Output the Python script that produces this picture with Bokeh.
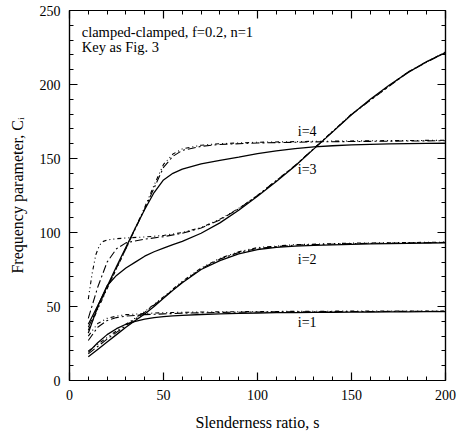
from bokeh.plotting import figure
from bokeh.models import Range1d, FixedTicker, LinearAxis, Label, CustomLabelingPolicy
from bokeh.embed import file_html
from bokeh.resources import INLINE

# ---------------- data ----------------
s_exact = [10, 15, 20, 25, 30, 35, 40, 45, 50, 55, 60, 70, 80, 90, 100,
           110, 120, 130, 140, 150, 160, 170, 180, 190, 200]

i1_exact = [19, 25.5, 31, 35, 38, 40, 41.5, 42.5, 43.2, 43.7, 44, 44.6, 45, 45.3, 45.6,
            45.8, 45.9, 46, 46.1, 46.2, 46.3, 46.4, 46.4, 46.5, 46.5]
i2_exact = [16, 21, 26, 31, 36, 40.5, 45, 50, 55.5, 61, 66, 75, 81, 85.5, 88.5,
            90, 90.8, 91.3, 91.7, 92, 92.3, 92.5, 92.7, 92.9, 93]
i3_exact = [32, 50, 64, 71, 76, 80, 84, 87, 89.5, 91.8, 94, 99.5, 106.5, 115, 124.5,
            134.5, 145, 156.5, 168, 179.5, 190, 199.5, 208, 215.5, 221.5]
i4_exact = [38, 50.5, 63.5, 77, 90, 103, 115.5, 127, 135.5, 140, 142.8, 146.3, 148.8, 151, 153.3,
            155.2, 156.7, 157.8, 158.6, 159.2, 159.6, 159.9, 160.1, 160.2, 160.3]

# approximation 1 (dash-dot)
s1_a = [10, 15, 20, 25, 30, 40, 50, 60, 80, 100, 150, 200]
i1_a = [27, 36, 40.5, 42.5, 43.5, 44.5, 45, 45.5, 46, 46.3, 46.6, 46.8]
s2_a = [10, 15, 20, 25, 30, 40, 50, 60, 70, 80, 90, 100, 120, 150, 200]
i2_a = [18, 23, 28, 32.5, 37, 46, 56, 66.5, 75.5, 82, 86.5, 89.3, 91.5, 92.5, 93.3]
s3_a = [10, 15, 20, 25, 30, 40, 50, 60, 70, 80, 90, 100, 120, 150, 180, 200]
i3_a = [42, 63, 80, 89, 93, 95.5, 97.2, 99.5, 103, 108.5, 116, 125, 145.2, 179.8, 208.3, 221.8]
s4_a = [10, 15, 20, 25, 30, 35, 40, 45, 50, 55, 60, 70, 80, 100, 130, 160, 200]
i4_a = [36, 49, 62.5, 76, 89, 102.5, 116, 130, 144, 151.5, 155.5, 158.2, 159.5, 160.5, 161.2, 161.6, 162]

# approximation 2 (dotted)
s1_b = [10, 15, 20, 25, 30, 40, 50, 60, 80, 100, 150, 200]
i1_b = [30, 38.5, 42, 43.5, 44.5, 45.3, 45.8, 46.1, 46.4, 46.6, 46.9, 47]
s2_b = [10, 15, 20, 25, 30, 40, 50, 60, 70, 80, 90, 100, 120, 150, 200]
i2_b = [20, 24.5, 29, 33.5, 38, 46.5, 56.5, 67, 76, 82.5, 87, 89.8, 91.8, 92.8, 93.5]
s3_b = [10, 12, 14, 16, 18, 20, 25, 30, 40, 50, 60, 70, 80, 90, 100, 120, 150, 180, 200]
i3_b = [55, 72, 85, 91.5, 94, 95, 95.8, 96.3, 97, 98, 100, 103.3, 109, 116.3, 125, 145.3, 180, 208.5, 222]
s4_b = [10, 15, 20, 25, 30, 35, 40, 45, 50, 55, 60, 70, 80, 100, 130, 160, 200]
i4_b = [34, 48, 62, 75.5, 89, 103, 117, 132, 146, 153, 156.5, 159, 160, 161, 161.6, 162, 162.3]

x_major = [0, 50, 100, 150, 200]
x_minor = list(range(0, 201, 10))
y_major = [0, 50, 100, 150, 200, 250]
y_minor = list(range(0, 251, 10))

mode_labels = ["i=1", "i=2", "i=3", "i=4"]
label_s = [126.4, 126.4, 126.4, 126.4]
label_c = [39.3, 82, 142.5, 168.4]

title_lines = ["clamped-clamped, f=0.2, n=1", "Key as Fig. 3"]

# ---------------- figure ----------------
FONT = "Liberation Serif"

p = figure(width=464, height=440, x_range=Range1d(0, 200), y_range=Range1d(0, 250),
           output_backend="svg", toolbar_location=None,
           min_border_left=69, min_border_right=19, min_border_top=10, min_border_bottom=60)
p.xgrid.visible = False
p.ygrid.visible = False
p.outline_line_color = "black"
p.outline_line_width = 1.2
p.background_fill_color = "white"
p.border_fill_color = "white"

def style_axis(ax, ticks, minor, size="14px"):
    ax.ticker = FixedTicker(ticks=ticks, minor_ticks=minor)
    ax.major_tick_in = 8
    ax.major_tick_out = 0
    ax.minor_tick_in = 4
    ax.minor_tick_out = 0
    ax.axis_line_color = "black"
    ax.axis_line_width = 1.2
    ax.major_tick_line_color = "black"
    ax.major_tick_line_width = 1.2
    ax.minor_tick_line_color = "black"
    ax.minor_tick_line_width = 1
    ax.major_label_text_font = FONT
    ax.major_label_text_font_size = size
    ax.major_label_text_color = "black"
    ax.axis_label_text_font = FONT
    ax.axis_label_text_font_size = "16px"
    ax.axis_label_text_font_style = "normal"
    ax.axis_label_text_color = "black"

style_axis(p.xaxis[0], x_major, x_minor)
style_axis(p.yaxis[0], y_major, y_minor)
p.xaxis[0].axis_label = "Slenderness ratio, s"
p.yaxis[0].axis_label = "Frequency parameter, C\u1d62"
p.xaxis[0].major_label_standoff = 9
p.xaxis[0].axis_label_standoff = 11
p.yaxis[0].major_label_standoff = 9
p.yaxis[0].axis_label_standoff = 11

# mirrored tick-only axes on top and right
hide_all = CustomLabelingPolicy(code="return new Set()")
top_ax = LinearAxis()
right_ax = LinearAxis()
style_axis(top_ax, x_major, x_minor, size="1px")
style_axis(right_ax, y_major, y_minor, size="1px")
for ax in (top_ax, right_ax):
    ax.major_label_policy = hide_all
    ax.major_label_standoff = 0
p.add_layout(top_ax, "above")
p.add_layout(right_ax, "right")

LW = 1.3
for ys in (i1_exact, i2_exact, i3_exact, i4_exact):
    p.line(s_exact, ys, line_color="black", line_width=LW)

for xs, ys in ((s1_a, i1_a), (s2_a, i2_a), (s3_a, i3_a), (s4_a, i4_a)):
    p.line(xs, ys, line_color="black", line_width=1.1, line_dash="8 3 2 3")

for xs, ys in ((s1_b, i1_b), (s2_b, i2_b), (s3_b, i3_b), (s4_b, i4_b)):
    p.line(xs, ys, line_color="black", line_width=1.1, line_dash="4 3 1 3 1 3")

for t, xx, yy in zip(mode_labels, label_s, label_c):
    p.add_layout(Label(x=xx, y=yy, text=t, text_align="center", text_baseline="middle",
                       text_font=FONT, text_font_size="14px", text_color="black"))

p.add_layout(Label(x=6.5, y=235.7, text=title_lines[0], text_align="left", text_baseline="middle",
                   text_font=FONT, text_font_size="14.5px", text_color="black"))
p.add_layout(Label(x=6.5, y=225.6, text=title_lines[1], text_align="left", text_baseline="middle",
                   text_font=FONT, text_font_size="14.5px", text_color="black"))

open("out.html", "w").write(file_html(p, INLINE))
